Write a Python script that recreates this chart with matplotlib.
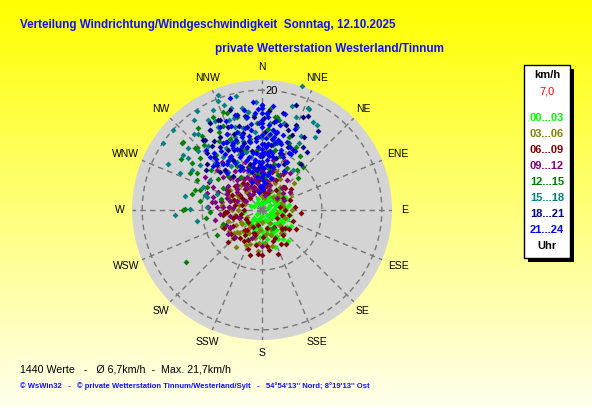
import numpy as np
import matplotlib
matplotlib.use("Agg")
import matplotlib.pyplot as plt
from matplotlib.patches import Rectangle

# wind direction (deg) / speed (km/h) per 3-hour block
dir_00 = [64, 58, 58, 135, 175, 194, 230, 120, 300, 325, 0, 95, 193, 148, 205, 200, 160, 103, 127, 153,
          168, 20, 75, 206, 163, 125, 210, 48, 150, 40, 30, 16, 37, 90, 110, 140, 160, 180, 185, 170,
          150, 120, 80, 100, 135, 200, 220, 230, 190, 160, 145, 30, 340, 0, 70, 215, 180, 120, 200, 175, 105,
          40, 55, 75, 85, 95, 115, 130, 145, 155, 165, 178, 185, 195, 212, 225, 240, 265, 290, 20, 350,
          100, 150, 60, 140, 170, 120, 70, 85, 110, 125, 65, 50]
spd_00 = [3.9, 2.5, 1.6, 1.2, 2.0, 1.4, 1.0, 2.2, 1.5, 1.4, 1.3, 3.4, 2.9, 2.5, 5.5, 3.7, 4.3, 3.6, 3.3, 4.1,
          3.9, 3.2, 3.7, 5.4, 1.8, 2.0, 2.0, 2.5, 5.0, 4.3, 2.6, 3.0, 4.2, 3.0, 2.5, 3.0, 3.0, 3.5, 4.5, 5.0,
          5.5, 4.0, 4.5, 4.8, 4.6, 2.0, 2.5, 3.5, 5.8, 6.5, 6.0, 2.0, 2.0, 3.0, 1.0, 4.5, 1.0, 1.5, 3.2, 4.2, 1.9,
          3.0, 3.5, 2.5, 4.0, 3.5, 3.5, 5.0, 4.0, 5.0, 3.5, 5.5, 3.0, 4.0, 3.0, 2.0, 3.0, 3.0, 2.0, 1.5, 1.0,
          1.5, 2.0, 4.5, 6.8, 6.2, 5.5, 3.0, 2.0, 4.5, 5.0, 4.5, 4.0]

dir_03 = [248, 229, 219, 186, 51, 38, 288, 291, 281, 148, 245, 15, 247, 226, 192, 277, 40, 274, 26, 15,
          296, 302, 301, 2, 210, 200, 175, 160, 130, 100, 70, 330, 350, 320, 260, 240, 235, 180, 200, 10,
          60, 30, 165, 185, 215, 265, 340, 20, 50,
          10, 25, 45, 55, 80, 90, 110, 140, 155, 170, 185, 195, 205, 222, 238, 252, 270, 282, 310, 325,
          340, 355, 0, 355, 290, 230, 320, 300, 285, 270, 255, 240, 225, 215]
spd_03 = [7.2, 5.5, 3.2, 3.4, 3.4, 4.9, 5.3, 6.1, 6.8, 2.5, 2.8, 5.2, 7.2, 6.7, 4.0, 6.7, 2.8, 6.7, 5.0, 4.0,
          6.5, 6.3, 4.9, 5.0, 4.5, 6.0, 5.5, 4.5, 4.0, 2.5, 3.5, 4.0, 3.5, 5.5, 4.5, 5.0, 4.0, 2.0, 2.5, 2.0,
          5.5, 6.0, 6.3, 6.8, 7.5, 6.0, 6.5, 7.0, 7.0,
          3.0, 3.5, 4.0, 3.0, 3.5, 5.0, 4.0, 5.0, 3.5, 4.0, 5.5, 4.8, 6.5, 4.8, 6.5, 6.0, 5.0, 4.0, 5.5, 6.5,
          5.5, 6.0, 4.0, 2.5, 3.0, 6.0, 4.0, 4.5, 5.5, 4.0, 5.0, 4.0, 5.5, 3.5]

dir_06 = [46, 90, 80, 132, 118, 155, 178, 196, 217, 214, 227, 263, 267, 297, 315, 301, 165, 208, 220, 134,
          44, 252, 267, 199, 195, 42, 110, 150, 170, 185, 200, 225, 240, 280, 300, 320, 340, 355, 10, 25,
          60, 100, 145, 230, 270, 330, 350, 15, 120, 160, 195, 210, 255, 128,
          5, 20, 35, 55, 70, 85, 95, 105, 125, 140, 145, 160, 172, 180, 190, 205, 218, 232, 245, 258,
          275, 290, 305, 312, 325, 338, 348, 0, 30, 240,
          340, 330, 350, 355, 320, 300, 285, 260, 345, 10]
spd_06 = [5.3, 3.8, 3.0, 4.5, 2.8, 5.1, 4.5, 4.3, 4.2, 5.0, 7.8, 6.6, 5.8, 5.6, 2.8, 3.9, 3.1, 3.2, 4.4, 4.6,
          5.3, 3.9, 6.2, 4.0, 2.6, 5.2, 5.5, 6.5, 6.8, 7.3, 7.0, 6.5, 5.5, 4.5, 6.5, 4.5, 5.0, 4.0, 4.5, 5.5,
          4.0, 4.5, 3.5, 3.0, 3.0, 6.0, 7.0, 6.5, 6.5, 7.8, 7.8, 6.0, 5.0, 4.9,
          3.0, 3.0, 4.0, 6.0, 5.0, 5.5, 6.5, 3.5, 5.5, 5.5, 7.0, 5.5, 6.0, 7.5, 6.0, 5.5, 6.0, 6.5, 7.0, 4.5,
          5.5, 5.0, 4.5, 6.0, 5.5, 3.5, 5.8, 6.5, 7.0, 3.0,
          4.0, 5.0, 3.0, 5.0, 3.0, 3.5, 3.5, 3.5, 6.5, 4.0]

dir_09 = [57, 27, 31, 242, 225, 274, 279, 285, 274, 289, 306, 326, 354, 18, 51, 274, 37, 358, 338, 295,
          287, 319, 317, 42, 280, 273, 335, 342, 241, 350, 5, 15, 340, 325, 300, 310, 290, 260, 250, 200,
          180, 0, 20, 330, 300, 10, 355, 345, 320, 300, 25,
          345, 335, 325, 315, 305, 295, 285, 275, 265, 258, 248, 235, 10, 20, 40, 50, 65, 352, 2, 12,
          330, 338, 320, 5, 292, 283, 312, 298,
          0, 350, 340, 330, 355, 5, 345, 335, 325, 10, 0, 348, 320, 315, 310]
spd_09 = [5.5, 6.6, 7.4, 6.0, 6.4, 7.5, 8.4, 8.4, 6.5, 6.2, 5.1, 4.4, 3.4, 4.4, 3.2, 4.8, 7.7, 6.7, 5.4, 9.0,
          9.6, 7.3, 9.1, 5.0, 8.0, 9.0, 7.4, 7.5, 6.1, 5.5, 6.0, 7.0, 8.5, 6.5, 7.0, 8.5, 4.5, 5.5, 4.0, 5.0,
          6.0, 8.0, 5.5, 3.0, 3.0, 2.5, 9.5, 10.5, 10.5, 11.0, 9.0,
          5.0, 6.0, 8.0, 6.0, 7.0, 6.5, 5.5, 5.5, 7.0, 8.0, 6.5, 7.0, 5.0, 3.5, 6.5, 4.5, 4.0, 8.5, 9.5, 8.5,
          9.5, 4.0, 3.5, 3.8, 8.0, 7.0, 10.0, 10.0,
          4.0, 4.5, 5.5, 6.0, 5.5, 5.0, 3.5, 4.5, 5.0, 6.5, 7.0, 6.0, 6.5, 7.5, 5.5]

dir_12 = [0, 4.5, 11, 340, 322, 311, 314, 332, 331, 9, 12, 271, 295, 288, 293, 308, 31, 352, 44, 41,
          8, 13, 236, 270, 287, 268, 241, 149, 300, 320, 325, 340, 350, 355, 5, 20, 25, 335, 345, 310,
          305, 15, 330, 0, 350, 28, 35, 10, 9, 321, 310, 313, 338,
          352, 357, 4, 7, 18, 22, 38, 48, 336, 342, 328, 318, 304, 302, 297, 283, 278, 315, 328, 345,
          5, 300, 285, 262, 250, 25]
spd_12 = [17.0, 16.9, 15.3, 17.2, 17.4, 17.4, 15.0, 17.5, 14.9, 11.8, 10.2, 12.8, 11.9, 10.9, 10.0, 10.9, 8.1, 6.2, 9.9, 8.9,
          15.6, 11.5, 15.4, 13.2, 11.7, 8.7, 8.6, 3.5, 12.5, 12.0, 10.0, 12.0, 14.0, 10.0, 12.5, 13.0, 10.5, 15.5, 16.0, 13.5,
          9.0, 8.0, 8.5, 9.0, 12.0, 12.0, 11.0, 7.0, 15.7, 16.0, 17.5, 15.2, 17.6,
          16.5, 14.5, 13.5, 10.0, 9.5, 12.0, 10.0, 8.0, 13.0, 10.5, 13.5, 14.5, 14.0, 16.0, 13.5, 12.0, 10.5, 8.0, 6.5, 7.5,
          5.5, 7.5, 7.0, 9.5, 7.0, 6.5]

dir_15 = [18, 16, 25, 23, 36, 29, 38, 339, 338, 340, 349, 355, 345, 323, 329, 327, 332, 304, 310, 294,
          271, 283, 343, 340, 306, 291, 267, 285, 273, 340, 345, 335, 350, 330, 320, 315, 355, 5, 0, 10,
          325, 300, 338, 348, 332, 342, 320, 24, 30, 305, 350, 343,
          347, 343, 334, 327, 318, 313, 300, 296, 312, 336, 341, 347, 352, 357, 3, 8, 14, 20, 28, 33,
          260, 280, 290, 318, 332, 345, 305, 324]
spd_15 = [21.7, 18.0, 18.6, 15.1, 15.0, 12.8, 8.4, 20.6, 19.7, 18.7, 17.3, 15.9, 16.4, 18.8, 17.6, 15.9, 15.7, 19.9, 16.2, 15.0,
          12.0, 9.4, 13.4, 15.9, 12.8, 10.6, 14.5, 9.8, 9.2, 13.0, 12.0, 14.0, 11.5, 12.0, 14.0, 11.0, 13.0, 14.5, 12.0, 11.0,
          9.0, 10.0, 10.0, 9.0, 16.8, 14.5, 16.5, 18.7, 16.9, 16.0, 15.6, 16.0,
          19.5, 17.8, 18.5, 19.8, 17.0, 14.5, 13.5, 17.5, 20.0, 12.5, 11.0, 14.0, 16.5, 18.0, 16.0, 13.5, 15.0, 16.5, 14.0, 17.0,
          11.0, 13.0, 8.0, 8.5, 9.0, 10.0, 15.0, 11.0]

dir_18 = [26, 35, 22, 22, 16, 8, 1, 345, 334, 327, 320, 333, 346, 316, 315, 22, 38, 321, 329, 335,
          317, 330, 27, 18, 326, 340, 350, 355, 5, 10, 340, 335, 345, 350, 0, 15, 325, 310, 12, 0, 345,
          30, 33, 40, 20, 24, 18, 4, 350, 342, 338, 330, 322, 318, 312, 305, 320, 335, 355, 10, 25,
          2, 8, 355, 345, 330]
spd_18 = [17.4, 16.2, 13.5, 15.3, 14.8, 14.8, 15.3, 16.4, 16.7, 15.9, 15.3, 12.7, 13.2, 13.3, 10.6, 11.4, 12.2, 15.0, 16.9, 16.6,
          9.1, 9.6, 11.3, 14.0, 12.6, 10.6, 14.0, 12.0, 11.0, 13.0, 13.5, 11.0, 8.0, 10.0, 9.0, 9.0, 14.0, 12.0, 16.5, 17.5, 14.6,
          14.0, 12.5, 10.0, 10.0, 17.0, 18.5, 16.5, 16.0, 17.5, 15.0, 14.0, 13.5, 12.0, 9.5, 11.5, 7.5, 8.0, 7.0, 7.5, 8.5,
          13.0, 11.0, 15.5, 11.5, 11.5]

dir_21 = [355, 13.5, 0, 0, 0, 0, 0, 0, 0, 5, 11, 15, 22, 18, 345, 342, 337, 329, 316, 317,
          351, 356, 3, 343, 348, 6, 10, 14, 331, 351, 2, 317, 316, 11, 9, 357, 356, 351, 347, 344,
          340, 335, 325, 320, 330, 338, 352, 358, 5, 8, 3, 6, 12, 16, 20, 25, 345, 355, 10, 340,
          350, 3, 0, 348, 335, 344, 22,
          0, 0, 0, 0, 0, 0, 358, 3, 4, 7, 8, 13, 17, 20, 24, 28, 30, 352, 349, 346,
          343, 341, 338, 334, 332, 327, 323, 318, 312, 353, 356, 358, 1, 2, 350, 340, 7, 15, 4, 9,
          6, 350, 338, 333,
          350, 355, 2, 5, 8, 12, 16, 345, 340, 335, 330, 325, 330, 320, 353, 0, 357, 354, 350, 6, 12, 27, 29]
spd_21 = [18.1, 16.4, 15.0, 13.8, 12.5, 11.0, 9.5, 8.0, 6.2, 14.2, 13.2, 11.7, 9.5, 10.5, 12.6, 13.7, 12.2, 10.3, 12.4, 13.6,
          15.7, 16.2, 16.2, 8.7, 7.3, 8.4, 9.6, 7.4, 7.6, 5.6, 5.0, 8.5, 10.8, 11.4, 12.3, 12.2, 10.5, 9.6, 10.8, 16.5,
          15.0, 14.0, 12.0, 10.0, 9.0, 11.0, 13.5, 14.5, 11.0, 10.0, 7.0, 12.8, 14.5, 13.0, 12.0, 10.5, 6.5, 4.0, 6.0, 10.0,
          11.5, 9.5, 17.0, 14.0, 11.5, 19.5, 14.6,
          17.5, 14.5, 10.2, 7.2, 5.5, 4.0, 16.8, 12.0, 10.5, 9.0, 13.5, 12.0, 10.0, 8.0, 11.5, 9.0, 7.5, 8.5, 11.8, 9.2,
          11.2, 7.0, 9.6, 8.2, 12.8, 11.2, 9.6, 11.5, 11.0, 6.8, 8.0, 9.0, 6.0, 3.5, 3.0, 5.0, 4.5, 5.5, 15.5, 15.0,
          17.5, 17.0, 16.0, 15.5,
          12.5, 11.5, 11.0, 9.5, 12.0, 9.0, 11.5, 13.0, 12.5, 12.0, 10.5, 10.0, 13.0, 12.5, 14.5, 16.2, 7.5, 9.5, 8.0, 7.5, 6.5, 10.5, 11.3]

block_labels = ["00...03", "03...06", "06...09", "09...12", "12...15", "15...18", "18...21", "21...24"]
block_colors = ["#00ff00", "#808000", "#800000", "#800080", "#008000", "#008080", "#000080", "#0000ff"]
directions = [dir_00, dir_03, dir_06, dir_09, dir_12, dir_15, dir_18, dir_21]
speeds = [spd_00, spd_03, spd_06, spd_09, spd_12, spd_15, spd_18, spd_21]

compass = ["N", "NNE", "NE", "ENE", "E", "ESE", "SE", "SSE",
           "S", "SSW", "SW", "WSW", "W", "WNW", "NW", "NNW"]
rings = [10, 20]
r_max = 21.7

W, H = 592, 407
plain = "Liberation Sans"

fig = plt.figure(figsize=(W / 100, H / 100), dpi=100)
renderer = fig.canvas.get_renderer()

# yellow gradient background
bg = fig.add_axes([0, 0, 1, 1])
grad = np.linspace(0, 1, 256)
img = np.ones((256, 1, 3))
img[:, 0, 2] = 0.93 * grad
bg.imshow(img, aspect="auto", extent=[0, 1, 0, 1], origin="upper")
bg.axis("off")

def ftext(x, y, s, width=None, **kw):
    t = fig.text(x / W, 1 - y / H, s, **kw)
    if width:
        w = t.get_window_extent(renderer).width
        t.set_fontsize(t.get_fontsize() * width / w)
    return t

# polar plot
cx, cy, R = 262, 210, 130
ax = fig.add_axes([(cx - R) / W, (H - cy - R) / H, 2 * R / W, 2 * R / H], projection="polar")
ax.set_theta_zero_location("N")
ax.set_theta_direction(-1)
ax.set_ylim(0, r_max)
ax.set_facecolor("#d4d4d4")
ax.grid(False)
ax.set_xticks([])
ax.set_yticks([])
ax.spines["polar"].set_visible(False)

th = np.linspace(0, 2 * np.pi, 361)
for r in rings:
    ax.plot(th, np.full_like(th, r), ls=(0, (4, 3)), color="#777777", lw=1)
for k in range(16):
    a = np.radians(k * 22.5)
    ax.plot([a, a], [0, r_max], ls=(0, (4, 3)), color="#777777", lw=1)

ax.text(np.radians(4.8), 20, "20", ha="center", va="center", fontsize=8, family=plain,
        bbox=dict(facecolor="#d4d4d4", edgecolor="none", pad=0.3))

for k, lab in enumerate(compass):
    rr = 24.6 if lab in ("WNW", "ENE", "WSW", "ESE") else 23.8
    ax.text(np.radians(k * 22.5), rr, lab, ha="center", va="center", fontsize=7.5,
            family=plain, clip_on=False)

for d, s, c in zip(directions, speeds, block_colors):
    ax.plot(np.radians(d), s, "D", ms=3.0, mew=0, color=c, ls="none", clip_on=False)

# titles
ftext(20, 25, "Verteilung Windrichtung/Windgeschwindigkeit  Sonntag, 12.10.2025", width=376,
      color="#1010ff", fontsize=9, fontweight="bold", family=plain, va="center")
ftext(215, 49, "private Wetterstation Westerland/Tinnum", width=228,
      color="#1010ff", fontsize=9, fontweight="bold", family=plain, va="center")

# legend box
fig.add_artist(Rectangle((528 / W, 1 - 262 / H), 46 / W, 193 / H, transform=fig.transFigure,
                         facecolor="black", edgecolor="none"))
fig.add_artist(Rectangle((524 / W, 1 - 258 / H), 46 / W, 193 / H, transform=fig.transFigure,
                         facecolor="white", edgecolor="black", lw=1))
ftext(547, 75, "km/h", ha="center", va="center", fontsize=8, fontweight="bold", family=plain)
ftext(547, 91, "7,0", ha="center", va="center", fontsize=8, color="red", family=plain)
for i, (lab, c) in enumerate(zip(block_labels, block_colors)):
    ftext(547, 118 + 16 * i, lab, ha="center", va="center", fontsize=8, fontweight="bold",
          color=c, family=plain)
ftext(547, 246, "Uhr", ha="center", va="center", fontsize=8, fontweight="bold", family=plain)

# footer
ftext(20, 369, "1440 Werte   -   Ø 6,7km/h  -  Max. 21,7km/h", width=211, fontsize=8,
      family=plain, va="center")
ftext(20, 386, "© WsWin32   -   © private Wetterstation Tinnum/Westerland/Sylt   -   54°54'13'' Nord; 8°19'13'' Ost",
      width=350, fontsize=5.5, fontweight="bold", color="#1010ff", family=plain, va="center")

fig.savefig("out.png", dpi=100)
